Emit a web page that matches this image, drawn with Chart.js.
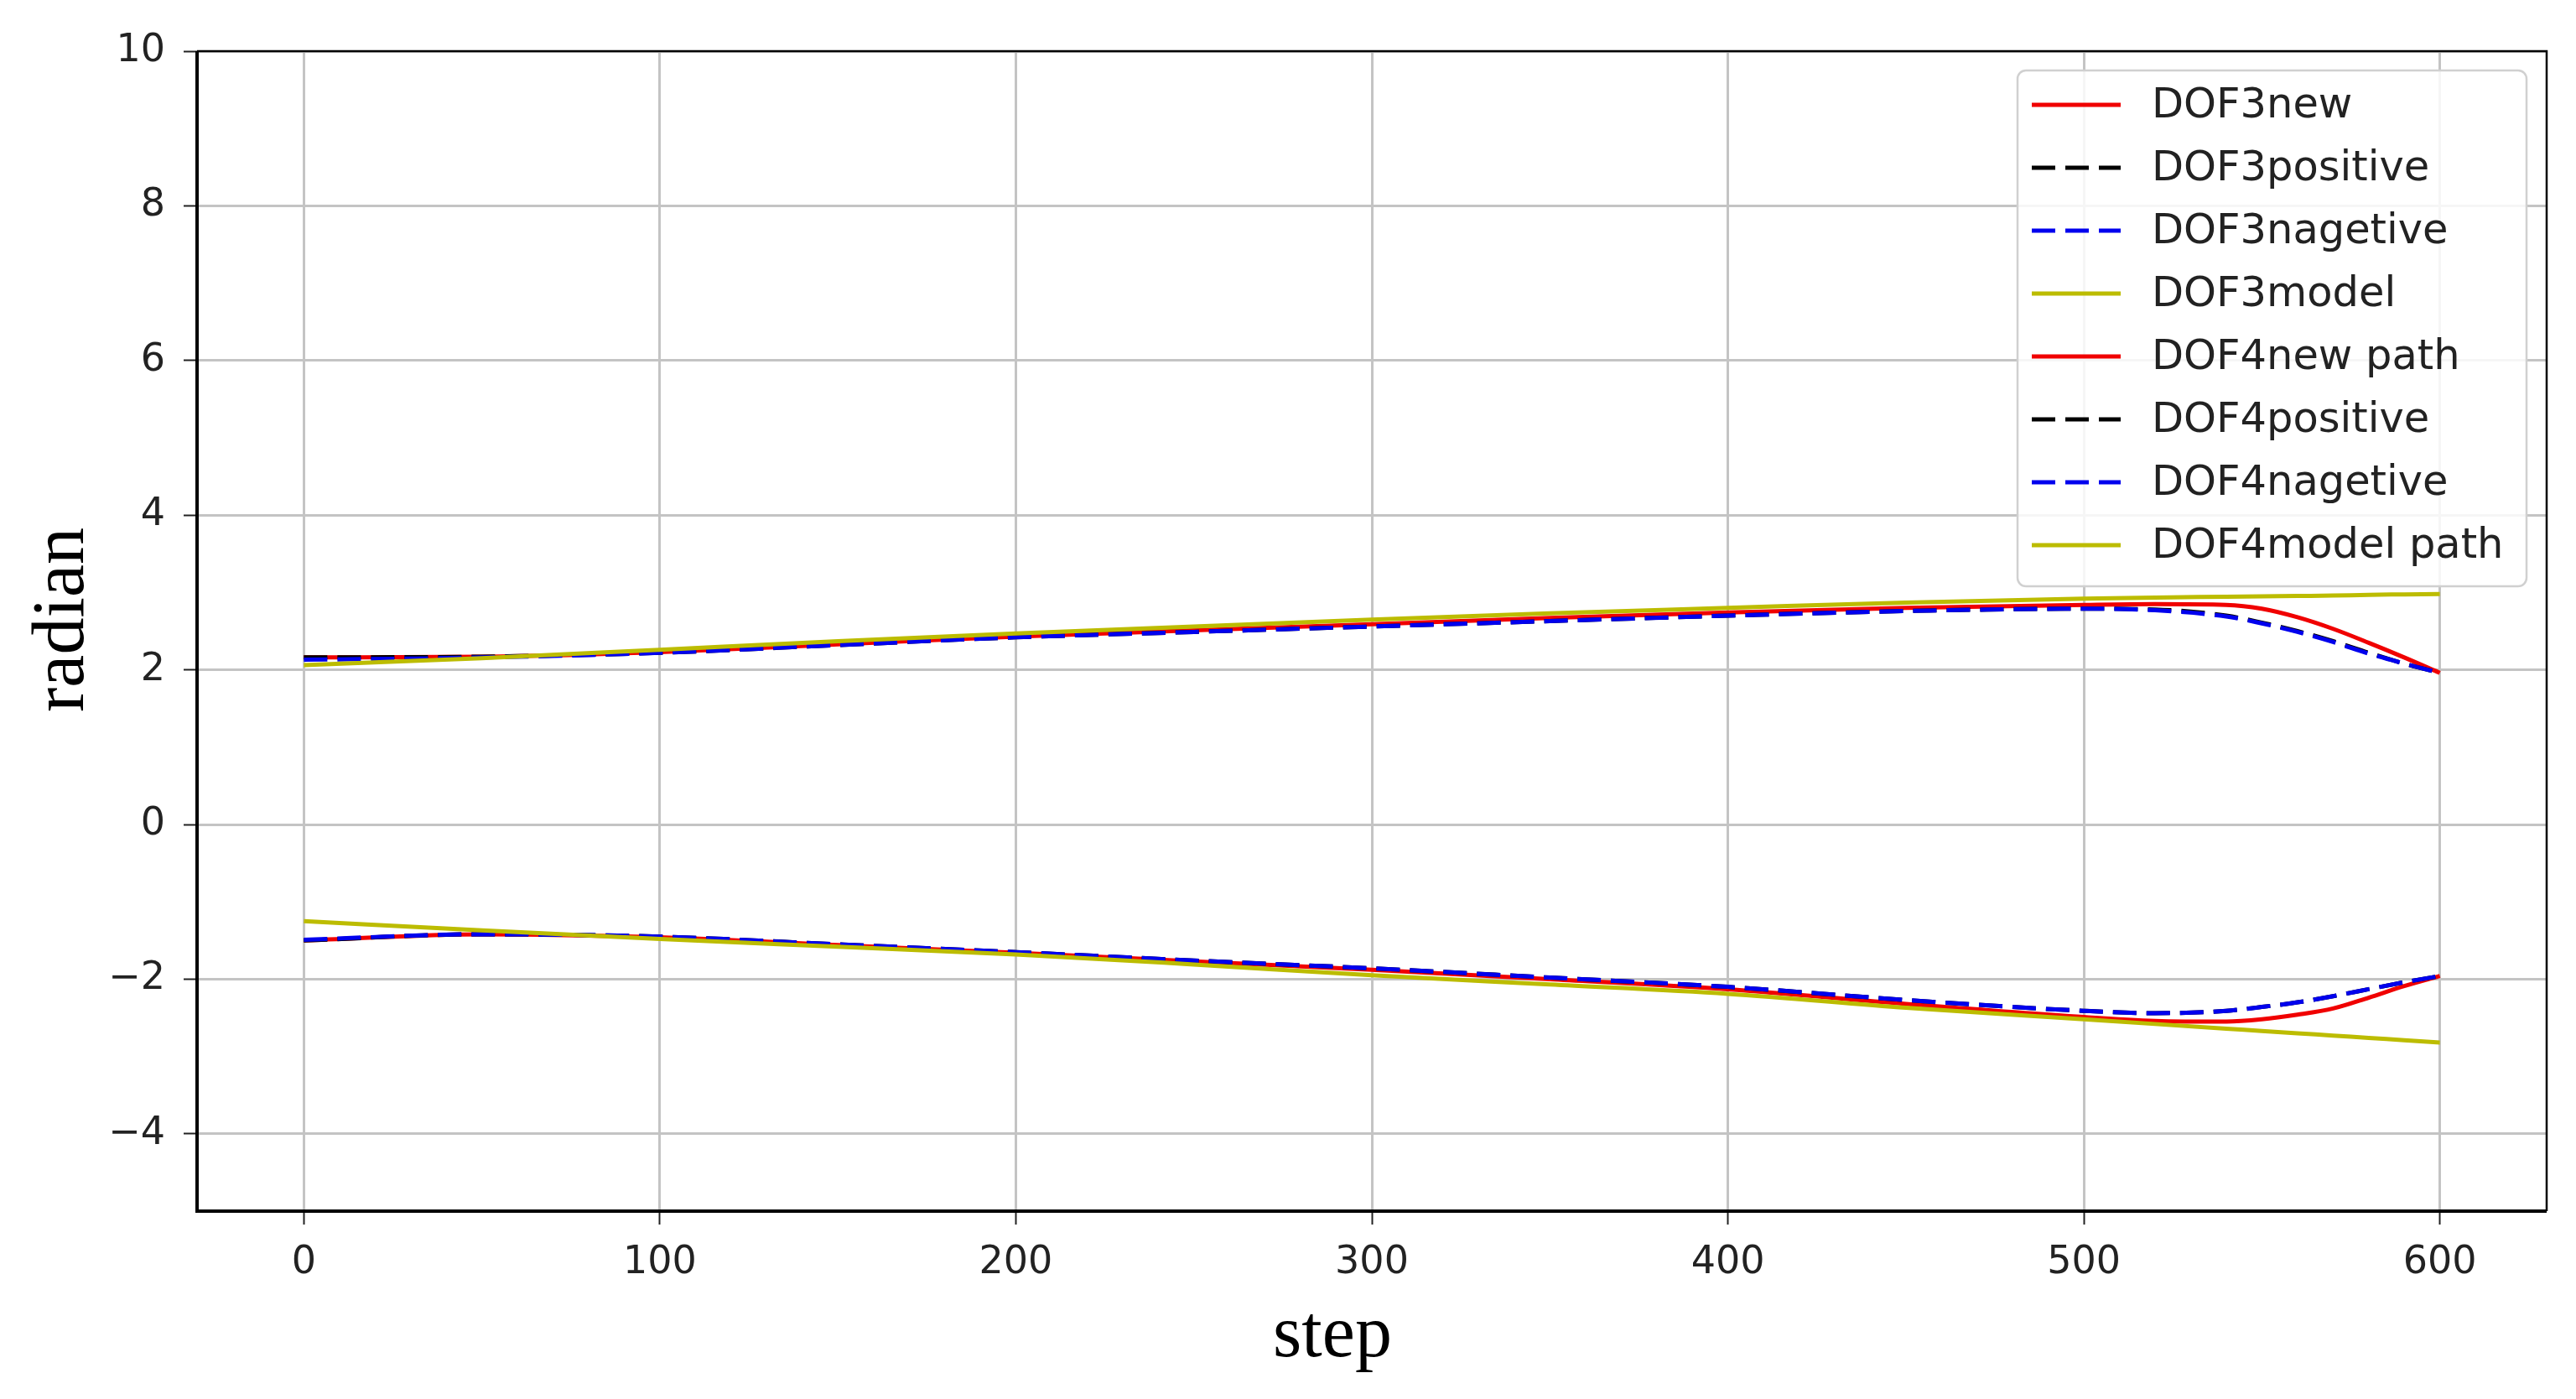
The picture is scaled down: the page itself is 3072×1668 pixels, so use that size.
<!DOCTYPE html>
<html><head><meta charset="utf-8">
<script src="https://cdn.jsdelivr.net/npm/chart.js@4.4.0/dist/chart.umd.min.js"></script>
<style>html,body{margin:0;padding:0;background:#fff;}canvas{display:block;}</style>
</head><body>
<canvas id="c" width="3072" height="1668"></canvas>
<script>
const steps = [0, 50, 100, 150, 200, 250, 300, 350, 400, 450, 500, 520, 540, 550, 560, 570, 580, 590, 600];

const dof3New      = [2.16, 2.17, 2.23, 2.33, 2.43, 2.51, 2.59, 2.67, 2.74, 2.80, 2.84, 2.85, 2.84, 2.79, 2.68, 2.53, 2.35, 2.16, 1.96];
const dof3Positive = [2.16, 2.17, 2.22, 2.32, 2.42, 2.49, 2.56, 2.63, 2.70, 2.76, 2.79, 2.78, 2.70, 2.61, 2.50, 2.37, 2.22, 2.08, 1.96];
const dof3Negative = [2.13, 2.16, 2.22, 2.32, 2.42, 2.49, 2.56, 2.63, 2.70, 2.76, 2.79, 2.77, 2.69, 2.60, 2.49, 2.36, 2.21, 2.08, 1.96];
const dof3Model    = [2.06, 2.15, 2.26, 2.37, 2.47, 2.56, 2.65, 2.73, 2.80, 2.87, 2.92, 2.935, 2.945, 2.95, 2.955, 2.96, 2.97, 2.975, 2.98];

const dof4New      = [-1.50, -1.42, -1.46, -1.56, -1.66, -1.77, -1.88, -2.00, -2.13, -2.32, -2.49, -2.54, -2.55, -2.52, -2.46, -2.38, -2.24, -2.09, -1.96];
const dof4Positive = [-1.50, -1.42, -1.45, -1.55, -1.65, -1.76, -1.86, -1.98, -2.10, -2.27, -2.41, -2.44, -2.41, -2.36, -2.30, -2.22, -2.13, -2.04, -1.96];
const dof4Negative = [-1.49, -1.42, -1.45, -1.55, -1.65, -1.76, -1.86, -1.98, -2.10, -2.27, -2.41, -2.44, -2.41, -2.36, -2.30, -2.22, -2.13, -2.04, -1.96];
const dof4Model    = [-1.25, -1.37, -1.48, -1.58, -1.68, -1.81, -1.95, -2.07, -2.19, -2.37, -2.52, -2.58, -2.64, -2.67, -2.70, -2.73, -2.76, -2.79, -2.82];

const seriesNames = ['DOF3new', 'DOF3positive', 'DOF3nagetive', 'DOF3model', 'DOF4new path', 'DOF4positive', 'DOF4nagetive', 'DOF4model path'];
const seriesValues = [dof3New, dof3Positive, dof3Negative, dof3Model, dof4New, dof4Positive, dof4Negative, dof4Model];
const seriesColors = ['#f00000', '#000000', '#0000ee', '#bcbc00', '#f00000', '#000000', '#0000ee', '#bcbc00'];
const seriesDashed = [false, true, true, false, false, true, true, false];

const xTicks = [0, 100, 200, 300, 400, 500, 600];
const yTicks = [-4, -2, 0, 2, 4, 6, 8, 10];
const xLabel = 'step';
const yLabel = 'radian';

const DASH = [28, 12];
const LW = 5;

function fmt(v) { return v < 0 ? '\u2212' + Math.abs(v) : String(v); }

const datasets = seriesNames.map((name, i) => ({
  label: name,
  data: steps.map((s, k) => ({ x: s, y: seriesValues[i][k] })),
  borderColor: seriesColors[i],
  backgroundColor: seriesColors[i],
  borderWidth: LW,
  borderDash: seriesDashed[i] ? DASH : [],
  pointRadius: 0,
  cubicInterpolationMode: 'monotone',
  fill: false,
  order: seriesNames.length - i
}));

const framePlugin = {
  id: 'frame',
  afterDatasetsDraw(chart) {
    const { ctx, chartArea: a } = chart;
    ctx.save();
    ctx.strokeStyle = '#000';
    ctx.lineWidth = 2.5;
    ctx.beginPath();
    ctx.moveTo(a.left, a.top); ctx.lineTo(a.right, a.top); ctx.lineTo(a.right, a.bottom);
    ctx.stroke();
    ctx.lineWidth = 4;
    ctx.beginPath();
    ctx.moveTo(a.left, a.top); ctx.lineTo(a.left, a.bottom); ctx.lineTo(a.right, a.bottom);
    ctx.stroke();
    ctx.restore();
  }
};

const titlePlugin = {
  id: 'axisTitles',
  afterDraw(chart) {
    const ctx = chart.ctx;
    ctx.save();
    ctx.fillStyle = '#000';
    ctx.font = '88px "Liberation Serif"';
    ctx.textAlign = 'center';
    ctx.textBaseline = 'middle';
    ctx.fillText(xLabel, 1589, 1594);
    ctx.translate(76, 739);
    ctx.rotate(-Math.PI / 2);
    ctx.fillText(yLabel, 0, 0);
    ctx.restore();
  }
};

const legendPlugin = {
  id: 'mplLegend',
  afterDraw(chart) {
    const { ctx, chartArea: a } = chart;
    const ds = chart.data.datasets;
    const w = 607, rowH = 75, h = 615;
    const x0 = a.right - 24 - w, y0 = a.top + 23;
    ctx.save();
    ctx.beginPath();
    ctx.roundRect(x0, y0, w, h, 10);
    ctx.fillStyle = 'rgba(255,255,255,0.85)';
    ctx.fill();
    ctx.lineWidth = 2.5;
    ctx.strokeStyle = '#d0d0d0';
    ctx.stroke();
    ctx.font = '49.5px "DejaVu Sans"';
    ctx.textBaseline = 'middle';
    ctx.textAlign = 'left';
    ds.forEach((d, i) => {
      const cy = y0 + 41 + i * rowH;
      ctx.beginPath();
      ctx.setLineDash(d.borderDash || []);
      ctx.lineWidth = LW;
      ctx.strokeStyle = d.borderColor;
      ctx.moveTo(x0 + 17, cy);
      ctx.lineTo(x0 + 123, cy);
      ctx.stroke();
      ctx.setLineDash([]);
      ctx.fillStyle = '#222';
      ctx.fillText(d.label, x0 + 160, cy + 2);
    });
    ctx.restore();
  }
};

new Chart(document.getElementById('c'), {
  type: 'line',
  data: { datasets },
  options: {
    responsive: false,
    animation: false,
    devicePixelRatio: 1,
    layout: { padding: { top: 61, right: 35, left: 0, bottom: 0 } },
    plugins: { legend: { display: false }, tooltip: { enabled: false } },
    scales: {
      x: {
        type: 'linear',
        min: -30, max: 630,
        afterBuildTicks: s => { s.ticks = xTicks.map(v => ({ value: v })); },
        afterFit: s => { s.height = 224; },
        ticks: { font: { family: 'DejaVu Sans', size: 46 }, color: '#222', padding: 18, maxRotation: 0, autoSkip: false, callback: v => fmt(v) },
        grid: { color: '#c4c4c4', lineWidth: 3, tickLength: 16, tickColor: '#222', tickWidth: 2 },
        border: { display: false },
        title: { display: false, text: xLabel }
      },
      y: {
        type: 'linear',
        min: -5, max: 10,
        afterBuildTicks: s => { s.ticks = yTicks.map(v => ({ value: v })); },
        afterFit: s => { s.width = 235; },
        ticks: { font: { family: 'DejaVu Sans', size: 46 }, color: '#222', padding: 22, autoSkip: false, callback: v => fmt(v) },
        grid: { color: '#c4c4c4', lineWidth: 3, tickLength: 16, tickColor: '#222', tickWidth: 2 },
        border: { display: false },
        title: { display: false, text: yLabel }
      }
    }
  },
  plugins: [framePlugin, legendPlugin, titlePlugin]
});
</script>
</body></html>
